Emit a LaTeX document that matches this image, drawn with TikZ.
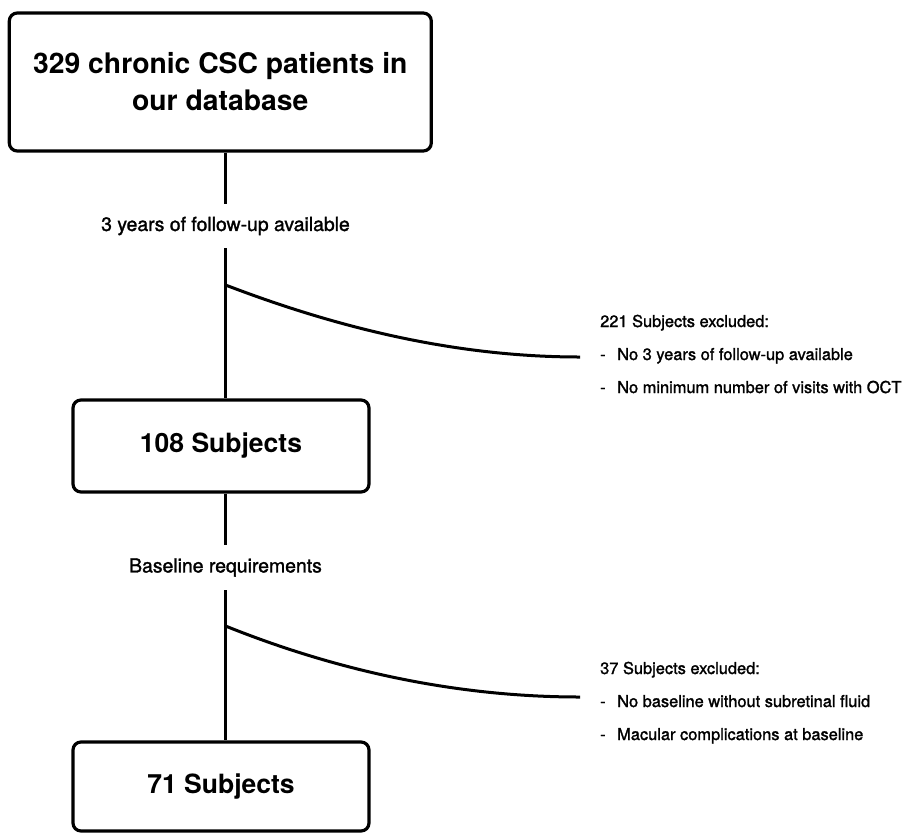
\documentclass[tikz,border=0pt]{standalone}
\usepackage{fontspec}
\setmainfont{TeX Gyre Heros}
\newfontfamily\medfont[FakeBold=1.5]{TeX Gyre Heros}
\newcommand\exdash{\makebox[17pt][l]{-}}
\begin{document}
\begin{tikzpicture}[x=1pt,y=-1pt,
 box/.style={draw, line width=3.2pt, rounded corners=8pt, inner sep=0pt, align=center, font=\fontsize{26.5}{37}\selectfont\bfseries},
 link/.style={line width=3pt},
 lbl/.style={inner sep=0pt, minimum height=44pt, font=\fontsize{19.4}{22}\selectfont\medfont},
 excl/.style={anchor=base west, inner sep=0pt, font=\fontsize{16.4}{19}\selectfont\medfont}]
\useasboundingbox (0,0) rectangle (902,833);
\node[box, minimum width=422pt, minimum height=138pt, font=\fontsize{28.3}{37}\selectfont\bfseries] (top) at (220.3,82) {329 chronic CSC patients in\\our database};
\node[lbl] (l1) at (225.5,226) {3 years of follow-up available};
\node[box, minimum width=296pt, minimum height=92pt] (s108) at (221,446) {108 Subjects};
\node[lbl, minimum height=45pt] (l2) at (225.5,567.5) {Baseline requirements};
\node[box, minimum width=296pt, minimum height=89pt] (s71) at (221,786.5) {71 Subjects};
\coordinate (b1) at (225.5,285);
\coordinate (e1) at (580,357);
\coordinate (b2) at (225.5,626);
\coordinate (e2) at (580,697);
\draw[link] (top.south -| l1) -- (l1.north);
\draw[link] (l1.south) -- (s108.north -| l1);
\draw[link] (s108.south -| l2) -- (l2.north);
\draw[link] (l2.south) -- (s71.north -| l2);
\draw[link] (b1) .. controls (330,325) and (450,357) .. (e1);
\draw[link] (b2) .. controls (330,668) and (450,697) .. (e2);
\node[excl] (x1h) at (600,327) {221 Subjects excluded:};
\node[excl] (x1a) at (600,360) {\exdash No 3 years of follow-up available};
\node[excl] (x1b) at (600,393) {\exdash No minimum number of visits with OCT};
\node[excl] (x2h) at (600,674) {37 Subjects excluded:};
\node[excl] (x2a) at (600,707) {\exdash No baseline without subretinal fluid};
\node[excl] (x2b) at (600,740) {\exdash Macular complications at baseline};
\end{tikzpicture}
\end{document}
